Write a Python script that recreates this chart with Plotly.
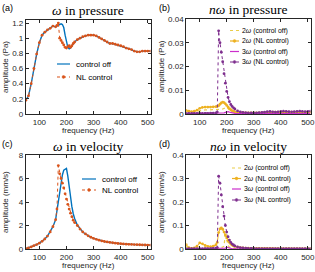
import plotly.graph_objects as go

# ---------------- data ----------------
freq = [50, 60, 70, 80, 90, 100, 110, 120, 130, 140, 150, 160,
        165, 170, 175, 180, 185, 190, 195, 200, 205, 210, 215, 220, 225, 230,
        240, 250, 260, 270, 280, 290, 300, 310, 320, 330, 340, 350, 360, 370,
        380, 390, 400, 410, 420, 430, 440, 450, 460, 470, 480, 490, 500, 510]

# (a) fundamental in pressure (Pa)
p_w_off = [0.18, 0.24, 0.40, 0.60, 0.79, 0.94, 1.04, 1.08, 1.11, 1.13, 1.16, 1.15,
           1.16, 1.17, 1.19, 1.19, 1.18, 1.14, 1.04, 0.94, 0.88, 0.86, 0.87, 0.90, 0.93, 0.95,
           0.98, 1.00, 1.02, 1.03, 1.04, 1.04, 1.04, 1.03, 1.01, 0.99,
           0.97, 0.95, 0.93, 0.93, 0.92, 0.91, 0.90, 0.89, 0.87, 0.86,
           0.85, 0.83, 0.82, 0.82, 0.83, 0.83, 0.83, 0.83]
p_w_nl = [0.18, 0.24, 0.40, 0.60, 0.79, 0.94, 1.04, 1.08, 1.11, 1.13, 1.16, 1.15,
          1.17, 1.20, 1.00, 0.97, 0.94, 0.91, 0.88, 0.87, 0.89, 0.90, 0.88, 0.90, 0.93, 0.95,
          0.98, 1.00, 1.02, 1.03, 1.04, 1.04, 1.04, 1.03, 1.01, 0.99,
          0.97, 0.95, 0.93, 0.93, 0.92, 0.91, 0.90, 0.89, 0.87, 0.86,
          0.85, 0.83, 0.82, 0.82, 0.83, 0.83, 0.83, 0.83]

# (b) harmonics in pressure (Pa)
p_2w_off = [0.0010, 0.0009, 0.0008, 0.0009, 0.0011, 0.0014, 0.0016, 0.0017, 0.0017, 0.0017, 0.0018, 0.0018,
            0.0018, 0.0019, 0.0020, 0.0020, 0.0021, 0.0022, 0.0026, 0.0028, 0.0022, 0.0016, 0.0012, 0.0010, 0.0008, 0.0007,
            0.0006, 0.0005, 0.0005, 0.0005, 0.0005, 0.0005, 0.0005, 0.0005, 0.0005, 0.0005,
            0.0006, 0.0006, 0.0006, 0.0006, 0.0007, 0.0007, 0.0007, 0.0007, 0.0007, 0.0007,
            0.0007, 0.0007, 0.0007, 0.0007, 0.0007, 0.0007, 0.0007, 0.0007]
p_2w_nl = [0.0015, 0.0012, 0.0010, 0.0012, 0.0016, 0.0024, 0.0028, 0.0029, 0.0029, 0.0029, 0.0030, 0.0031,
           0.0032, 0.0035, 0.0041, 0.0047, 0.0050, 0.0048, 0.0043, 0.0036, 0.0029, 0.0023, 0.0018, 0.0014, 0.0011, 0.0009,
           0.0007, 0.0006, 0.0006, 0.0005, 0.0005, 0.0005, 0.0005, 0.0005, 0.0005, 0.0006,
           0.0006, 0.0007, 0.0007, 0.0008, 0.0008, 0.0008, 0.0008, 0.0008, 0.0008, 0.0008,
           0.0008, 0.0008, 0.0008, 0.0008, 0.0008, 0.0008, 0.0008, 0.0008]
p_3w_off = [0.0002, 0.0002, 0.0002, 0.0002, 0.0002, 0.0002, 0.0002, 0.0002, 0.0002, 0.0002, 0.0002, 0.0002,
            0.0002, 0.0003, 0.0003, 0.0004, 0.0004, 0.0005, 0.0007, 0.0009, 0.0010, 0.0008, 0.0006, 0.0004, 0.0003, 0.0003,
            0.0002, 0.0002, 0.0002, 0.0002, 0.0002, 0.0002, 0.0002, 0.0002, 0.0002, 0.0002,
            0.0002, 0.0002, 0.0002, 0.0002, 0.0002, 0.0002, 0.0002, 0.0002, 0.0002, 0.0002,
            0.0002, 0.0002, 0.0002, 0.0002, 0.0002, 0.0002, 0.0002, 0.0002]
p_3w_nl = [0.0003, 0.0003, 0.0003, 0.0003, 0.0003, 0.0003, 0.0003, 0.0003, 0.0003, 0.0004, 0.0004, 0.0005,
           0.0008, 0.0350, 0.0300, 0.0260, 0.0220, 0.0170, 0.0130, 0.0095, 0.0070, 0.0052, 0.0040, 0.0032, 0.0026, 0.0021,
           0.0013, 0.0009, 0.0007, 0.0006, 0.0005, 0.0005, 0.0005, 0.0005, 0.0006, 0.0007,
           0.0008, 0.0010, 0.0011, 0.0009, 0.0008, 0.0009, 0.0011, 0.0012, 0.0011, 0.0010,
           0.0009, 0.0010, 0.0011, 0.0012, 0.0011, 0.0010, 0.0011, 0.0012]

# (c) fundamental in velocity (mm/s)
v_w_off = [0.02, 0.10, 0.18, 0.28, 0.38, 0.50, 0.65, 0.85, 1.10, 1.45, 1.90, 2.50,
           3.30, 3.90, 4.60, 5.50, 6.30, 6.70, 6.80, 6.85, 6.20, 5.20, 4.30, 3.60, 3.00, 2.60,
           2.05, 1.70, 1.45, 1.28, 1.12, 1.00, 0.90, 0.82, 0.75, 0.69,
           0.64, 0.60, 0.56, 0.53, 0.50, 0.47, 0.45, 0.43, 0.41, 0.40,
           0.39, 0.38, 0.37, 0.36, 0.35, 0.34, 0.33, 0.33]
v_w_nl = [0.02, 0.10, 0.18, 0.28, 0.38, 0.50, 0.65, 0.85, 1.10, 1.45, 1.90, 2.50,
          3.40, 7.10, 6.40, 6.00, 5.60, 5.20, 4.70, 4.25, 3.80, 3.40, 3.05, 2.75, 2.45, 2.25,
          2.00, 1.70, 1.45, 1.28, 1.12, 1.00, 0.90, 0.82, 0.75, 0.69,
          0.64, 0.60, 0.56, 0.53, 0.50, 0.47, 0.45, 0.43, 0.41, 0.40,
          0.39, 0.38, 0.37, 0.36, 0.35, 0.34, 0.33, 0.33]

# (d) harmonics in velocity (mm/s)
v_2w_off = [0.012, 0.003, 0.002, 0.002, 0.003, 0.004, 0.004, 0.004, 0.004, 0.004, 0.005, 0.005,
            0.005, 0.006, 0.006, 0.007, 0.008, 0.012, 0.070, 0.040, 0.015, 0.008, 0.005, 0.004, 0.003, 0.003,
            0.002, 0.002, 0.002, 0.002, 0.002, 0.002, 0.002, 0.002, 0.002, 0.002,
            0.002, 0.002, 0.002, 0.002, 0.002, 0.002, 0.002, 0.002, 0.002, 0.002,
            0.002, 0.002, 0.002, 0.002, 0.002, 0.002, 0.002, 0.002]
v_2w_nl = [0.018, 0.006, 0.003, 0.005, 0.012, 0.026, 0.022, 0.015, 0.011, 0.010, 0.012, 0.018,
           0.028, 0.070, 0.086, 0.090, 0.084, 0.072, 0.060, 0.047, 0.036, 0.028, 0.021, 0.017, 0.013, 0.011,
           0.008, 0.006, 0.005, 0.004, 0.004, 0.003, 0.003, 0.003, 0.003, 0.003,
           0.003, 0.003, 0.003, 0.003, 0.002, 0.002, 0.002, 0.002, 0.002, 0.002,
           0.002, 0.002, 0.002, 0.002, 0.002, 0.002, 0.002, 0.002]
v_3w_off = [0.001, 0.001, 0.001, 0.001, 0.001, 0.001, 0.001, 0.001, 0.001, 0.001, 0.001, 0.001,
            0.001, 0.001, 0.001, 0.002, 0.002, 0.003, 0.004, 0.008, 0.006, 0.003, 0.002, 0.001, 0.001, 0.001,
            0.001, 0.001, 0.001, 0.001, 0.001, 0.001, 0.001, 0.001, 0.001, 0.001,
            0.001, 0.001, 0.001, 0.001, 0.001, 0.001, 0.001, 0.001, 0.001, 0.001,
            0.001, 0.001, 0.001, 0.001, 0.001, 0.001, 0.001, 0.001]
v_3w_nl = [0.001, 0.001, 0.001, 0.001, 0.001, 0.001, 0.001, 0.002, 0.002, 0.002, 0.003, 0.004,
           0.006, 0.310, 0.280, 0.230, 0.180, 0.140, 0.100, 0.072, 0.052, 0.038, 0.028, 0.021, 0.017, 0.013,
           0.009, 0.006, 0.005, 0.004, 0.003, 0.003, 0.003, 0.002, 0.002, 0.002,
           0.002, 0.002, 0.002, 0.002, 0.002, 0.002, 0.002, 0.002, 0.002, 0.002,
           0.002, 0.002, 0.002, 0.002, 0.002, 0.002, 0.002, 0.002]

x_ticks = [100, 200, 300, 400, 500]
y_ticks_a = [0, 0.2, 0.4, 0.6, 0.8, 1.0, 1.2]
y_labels_a = ["0", "0.2", "0.4", "0.6", "0.8", "1", "1.2"]
y_ticks_b = [0, 0.01, 0.02, 0.03, 0.04]
y_labels_b = ["0", "0.01", "0.02", "0.03", "0.04"]
y_ticks_c = [0, 2, 4, 6, 8]
y_labels_c = ["0", "2", "4", "6", "8"]
y_ticks_d = [0, 0.1, 0.2, 0.3, 0.4]
y_labels_d = ["0", "0.1", "0.2", "0.3", "0.4"]

# ---------------- styling ----------------
W, H = 315, 272
SANS = "Liberation Sans"
SERIF = "Liberation Serif"
AX = "#262626"
C_OFF = "#0072BD"
C_NL = "#D95319"
C_2OFF = "#E9CD4A"
C_2NL = "#EDB120"
C_3OFF = "#CC2FCC"
C_3NL = "#7E2F8E"


def px(x):
    return x / W


def py(y):
    return 1 - y / H


fig = go.Figure()


def add(xa, ya, yvals, name, color, dash, marker, width=1.2):
    fig.add_trace(go.Scatter(
        x=freq, y=yvals, name=name, xaxis=xa, yaxis=ya, showlegend=False,
        mode="lines+markers" if marker else "lines",
        line=dict(color=color, dash=dash, width=width),
        marker=dict(size=2.8, color=color, symbol="circle"),
    ))


add("x", "y", p_w_off, "control off", C_OFF, "solid", False, 1.4)
add("x", "y", p_w_nl, "NL control", C_NL, "dot", True, 1.0)

add("x2", "y2", p_2w_off, "2ω (control off)", C_2OFF, "dot", False, 1.2)
add("x2", "y2", p_2w_nl, "2ω (NL control)", C_2NL, "solid", True, 1.0)
add("x2", "y2", p_3w_off, "3ω (control off)", C_3OFF, "solid", False, 1.2)
add("x2", "y2", p_3w_nl, "3ω (NL control)", C_3NL, "dot", True, 1.0)

add("x3", "y3", v_w_off, "control off", C_OFF, "solid", False, 1.4)
add("x3", "y3", v_w_nl, "NL control", C_NL, "dot", True, 1.0)

add("x4", "y4", v_2w_off, "2ω (control off)", C_2OFF, "dot", False, 1.2)
add("x4", "y4", v_2w_nl, "2ω (NL control)", C_2NL, "solid", True, 1.0)
add("x4", "y4", v_3w_off, "3ω (control off)", C_3OFF, "solid", False, 1.2)
add("x4", "y4", v_3w_nl, "3ω (NL control)", C_3NL, "dot", True, 1.0)

# panel geometry in pixels: (left, right, top, bottom)
geo = {
    1: (25.8, 150.5, 20, 114),
    2: (186.2, 310.5, 19, 114),
    3: (25.8, 150.5, 155, 249),
    4: (186.2, 310.5, 155, 249),
}
yinfo = {
    1: ([0, 1.24], y_ticks_a, y_labels_a, "amplitude (Pa)"),
    2: ([0, 0.04], y_ticks_b, y_labels_b, "amplitude (Pa)"),
    3: ([0, 8], y_ticks_c, y_labels_c, "amplitude (mm/s)"),
    4: ([0, 0.4], y_ticks_d, y_labels_d, "amplitude (mm/s)"),
}
ytitle_x = {1: 5, 2: 161, 3: 5, 4: 161}

layout = dict(
    width=W, height=H, margin=dict(l=0, r=0, t=0, b=0),
    paper_bgcolor="white", plot_bgcolor="white",
    font=dict(family=SANS, size=8, color=AX),
    showlegend=False,
)
for i in range(1, 5):
    l, r, t, b = geo[i]
    sfx = "" if i == 1 else str(i)
    yr, yt, yl, ytitle = yinfo[i]
    common = dict(showline=True, mirror="ticks", linecolor=AX, linewidth=0.8,
                  ticks="inside", ticklen=3, tickwidth=0.8, tickcolor=AX,
                  showgrid=False, zeroline=False, automargin=False,
                  ticklabeloverflow="allow",
                  tickfont=dict(family=SANS, size=8, color=AX))
    layout["xaxis" + sfx] = dict(common, domain=[px(l), px(r)], range=[50, 510],
                                 tickvals=x_ticks, anchor="y" + sfx)
    layout["yaxis" + sfx] = dict(common, domain=[py(b), py(t)], range=yr,
                                 tickvals=yt, ticktext=yl, anchor="x" + sfx)

fig.update_layout(**layout)

# titles, axis titles, panel labels
titles = {1: "<i>ω</i> in pressure", 2: "<i>nω</i> in pressure",
          3: "<i>ω</i> in velocity", 4: "<i>nω</i> in velocity"}
tags = {1: "(a)", 2: "(b)", 3: "(c)", 4: "(d)"}
tag_pos = {1: (0, 8), 2: (157, 8), 3: (0, 144), 4: (157, 144)}
for i in range(1, 5):
    l, r, t, b = geo[i]
    yr, yt, yl, ytitle = yinfo[i]
    fig.add_annotation(x=px((l + r) / 2), y=py(t - 9), xref="paper", yref="paper",
                       text=titles[i], showarrow=False, xanchor="center", yanchor="middle",
                       font=dict(family=SERIF, size=13.5, color="black"))
    fig.add_annotation(x=px((l + r) / 2), y=py(b + 16), xref="paper", yref="paper",
                       text="frequency (Hz)", showarrow=False, xanchor="center", yanchor="middle",
                       font=dict(family=SANS, size=8, color=AX))
    fig.add_annotation(x=px(ytitle_x[i]), y=py((t + b) / 2), xref="paper", yref="paper",
                       text=ytitle, showarrow=False, textangle=-90,
                       xanchor="center", yanchor="middle",
                       font=dict(family=SANS, size=8, color=AX))
    tx, ty = tag_pos[i]
    fig.add_annotation(x=px(tx), y=py(ty), xref="paper", yref="paper",
                       text=tags[i], showarrow=False, xanchor="left", yanchor="middle",
                       font=dict(family=SANS, size=9, color="black"))

# manual legends (paper coords): entries (label, color, dash, marker)
leg_ab = [("control off", C_OFF, "solid", False), ("NL control", C_NL, "dot", True)]
leg_h = [("2<i>ω</i> (control off)", C_2OFF, "dot", False),
         ("2<i>ω</i> (NL control)", C_2NL, "solid", True),
         ("3<i>ω</i> (control off)", C_3OFF, "solid", False),
         ("3<i>ω</i> (NL control)", C_3NL, "dot", True)]
legends = [
    (leg_ab, 57, 70, 74, [64, 77], 8),
    (leg_h, 230, 239, 240, [30.5, 41, 51.5, 62], 6.9),
    (leg_ab, 82, 96, 100, [179, 190], 8),
    (leg_h, 232, 241, 242, [168, 178.5, 189, 200], 6.9),
]
shapes = []
for entries, x0, x1, xt, ys, fs in legends:
    for (lab, col, dash, mk), yy in zip(entries, ys):
        shapes.append(dict(type="line", xref="paper", yref="paper",
                           x0=px(x0), x1=px(x1), y0=py(yy), y1=py(yy),
                           line=dict(color=col, dash=dash, width=1.2)))
        if mk:
            cx = (x0 + x1) / 2
            shapes.append(dict(type="circle", xref="paper", yref="paper",
                               x0=px(cx - 1.4), x1=px(cx + 1.4), y0=py(yy + 1.4), y1=py(yy - 1.4),
                               line=dict(color=col, width=0.5), fillcolor=col))
        fig.add_annotation(x=px(xt), y=py(yy), xref="paper", yref="paper", text=lab,
                           showarrow=False, xanchor="left", yanchor="middle",
                           font=dict(family=SANS, size=fs, color="black"))
fig.update_layout(shapes=shapes)

fig.write_html("out.html", config={"displayModeBar": False},
               post_script="document.body.style.margin='0';document.body.style.overflow='hidden';")
